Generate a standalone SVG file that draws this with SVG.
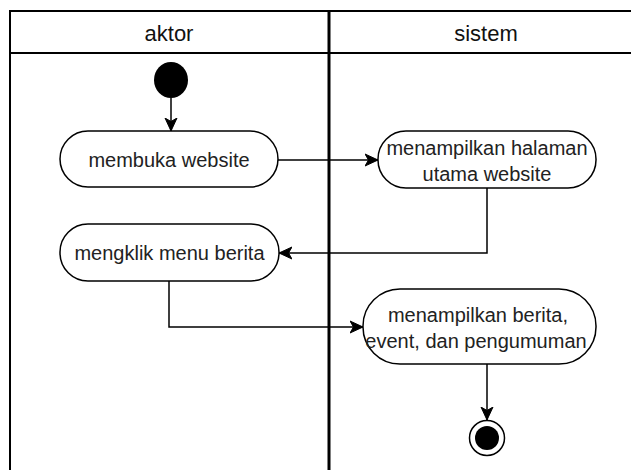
<svg xmlns="http://www.w3.org/2000/svg" width="631" height="470" viewBox="0 0 631 470">
<style>
.lane{fill:none;stroke:#000;stroke-width:2}
.div{fill:none;stroke:#000;stroke-width:3}
.node{fill:#fff;stroke:#000;stroke-width:1.5}
.t{font-family:"Liberation Sans",Arial,sans-serif;font-size:20px;fill:#222;text-anchor:middle}
.h{font-family:"Liberation Sans",Arial,sans-serif;font-size:22px;fill:#111;text-anchor:middle}
.c{fill:none;stroke:#000;stroke-width:1.5}
</style>
<defs>
<marker id="arr" markerUnits="userSpaceOnUse" markerWidth="14" markerHeight="14" refX="13" refY="7" orient="auto">
<path d="M0,1 L13,7 L0,13 L3.5,7 z" fill="#000" stroke="#000" stroke-width="1"/>
</marker>
</defs>
<rect width="631" height="470" fill="#fff"/>
<g id="lanes">
<line class="lane" x1="10" y1="11" x2="631" y2="11"/>
<line class="lane" x1="10" y1="53" x2="631" y2="53"/>
<line class="lane" x1="10" y1="10" x2="10" y2="470"/>
<line class="div" x1="329" y1="10" x2="329" y2="470"/>
<text class="h" x="169" y="41">aktor</text>
<text class="h" x="486" y="41">sistem</text>
</g>
<g id="connectors">
<path class="c" d="M171,98 L171,131" marker-end="url(#arr)"/>
<path class="c" d="M278,160 L378,160" marker-end="url(#arr)"/>
<path class="c" d="M487,188 L487,253 L279,253" marker-end="url(#arr)"/>
<path class="c" d="M169,281 L169,327 L363,327" marker-end="url(#arr)"/>
<path class="c" d="M487,364 L487,420" marker-end="url(#arr)"/>
</g>
<g id="start">
<ellipse cx="171" cy="80" rx="17" ry="18" fill="#000"/>
</g>
<g id="membuka">
<rect class="node" x="60" y="131" width="218" height="56" rx="28"/>
<text class="t" x="169" y="167">membuka website</text>
</g>
<g id="halaman">
<rect class="node" x="378" y="131" width="218" height="57" rx="28"/>
<text class="t" x="487" y="155">menampilkan halaman</text>
<text class="t" x="487" y="181">utama website</text>
</g>
<g id="mengklik">
<rect class="node" x="60" y="224" width="219" height="57" rx="28"/>
<text class="t" x="169.5" y="260">mengklik menu berita</text>
</g>
<g id="berita">
<rect class="node" x="363" y="289" width="233" height="75" rx="37"/>
<text class="t" x="478" y="322">menampilkan berita,</text>
<text class="t" x="476" y="348">event, dan pengumuman</text>
</g>
<g id="end">
<circle cx="487" cy="438" r="17.5" fill="#fff" stroke="#000" stroke-width="1.5"/>
<circle cx="487" cy="438" r="12" fill="#000"/>
</g>
</svg>
